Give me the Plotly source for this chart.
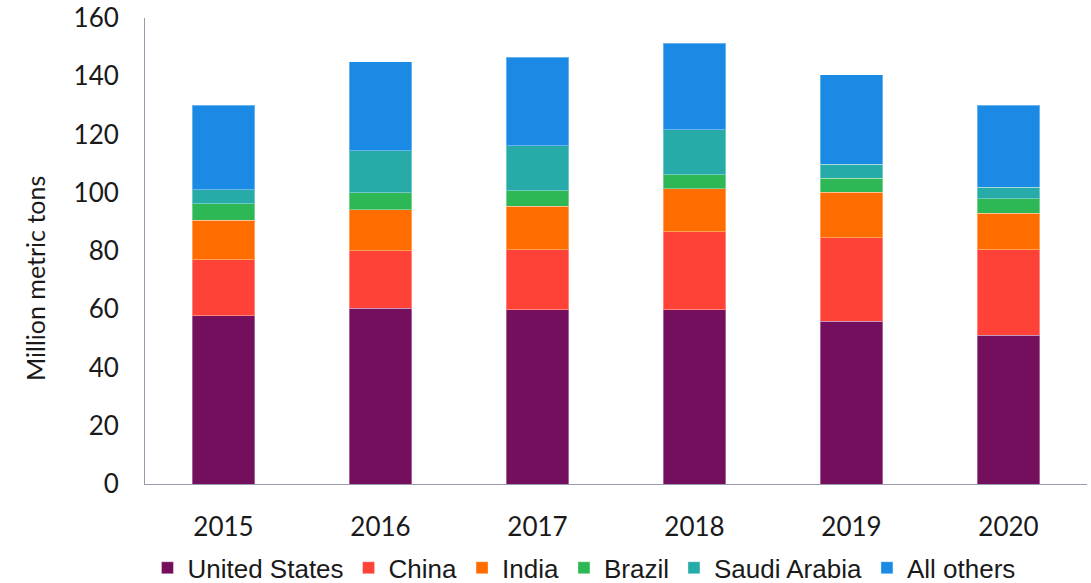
import plotly.graph_objects as go

years = ["2015", "2016", "2017", "2018", "2019", "2020"]
united_states = [57.8, 60.4, 59.8, 59.8, 55.9, 51.0]
china = [19.2, 19.7, 20.6, 26.8, 28.6, 29.4]
india = [13.5, 14.1, 14.9, 14.7, 15.6, 12.5]
brazil = [5.7, 5.8, 5.4, 4.9, 4.9, 5.1]
saudi_arabia = [4.8, 14.5, 15.5, 15.5, 4.8, 3.9]
all_others = [29.1, 30.4, 30.3, 29.6, 30.7, 28.2]

series = [
    ("United States", united_states, "#730F5C"),
    ("China", china, "#FF4238"),
    ("India", india, "#FF6D00"),
    ("Brazil", brazil, "#2EB755"),
    ("Saudi Arabia", saudi_arabia, "#26ABA9"),
    ("All others", all_others, "#1A8AE4"),
]

fig = go.Figure()
for name, vals, color in series:
    fig.add_trace(go.Bar(
        x=years, y=vals, name=name,
        marker=dict(color=color, line=dict(color="rgba(255,255,255,0.35)", width=1)),
    ))

fig.update_layout(
    barmode="stack",
    bargap=0.6,
    width=1091, height=583,
    margin=dict(l=145, r=4, t=18, b=99, autoexpand=False),
    paper_bgcolor="white", plot_bgcolor="white",
    font=dict(family="Lato, sans-serif", color="#1a1a1a", size=26),
    showlegend=True,
    legend=dict(
        orientation="h", x=0.466, xanchor="center", y=-0.18, yanchor="middle",
        font=dict(family="Liberation Sans, Arial, sans-serif", size=26),
        itemwidth=30, traceorder="normal",
    ),
    yaxis=dict(
        range=[0, 160], dtick=20, showgrid=False, zeroline=False,
        showline=True, linecolor="#9a9aae", linewidth=1,
        ticks="outside", ticklen=20, tickcolor="rgba(0,0,0,0)",
        tickfont=dict(size=26),
    ),
    xaxis=dict(
        showgrid=False, showline=True, linecolor="#9a9aae", linewidth=1,
        ticks="outside", ticklen=20, tickcolor="rgba(0,0,0,0)",
        tickfont=dict(size=26),
    ),
    annotations=[dict(
        text="Million metric tons", textangle=-90, showarrow=False,
        xref="paper", yref="paper", x=-0.1168, y=0.442,
        xanchor="center", yanchor="middle",
        font=dict(family="Lato, sans-serif", size=25, color="#1a1a1a"),
    )],
)

fig.write_html("out.html")
